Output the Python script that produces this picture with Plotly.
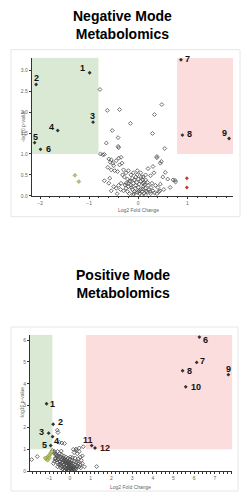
import plotly.graph_objects as go

W, H = 245, 500

# ---------------- Negative mode data ----------------
neg_lab_x = [-0.99, -2.08, -0.92, -1.64, -2.11, -1.99, 0.87, 0.90, 1.85]
neg_lab_y = [2.94, 2.66, 1.76, 1.56, 1.27, 1.11, 3.25, 1.45, 1.37]
neg_labels = ["1", "2", "3", "4", "5", "6", "7", "8", "9"]
neg_lab_dx = [-7, 0, -1, -6, 1, 8, 7, 7, -5]
neg_lab_dy = [5, 6, 6, 4, 6, 0, 1, 1, 5]

neg_other_x = [-0.78, -0.63, -0.38, 0.48, 0.33, -0.16, -0.53, 0.29, -0.65, -0.41, -0.40, 0.54,
               -0.77, -0.72, 0.38, 0.47, 0.71, 0.75,
               -0.41, -0.69, -0.6, -0.55, -0.57, -0.52, -0.5, -0.45, -0.4, -0.35, -0.33, -0.38,
               -0.55, -0.48, -0.42, -0.3, -0.25, -0.2, -0.15, -0.28, -0.22, -0.18, -0.12, -0.08,
               -0.05, 0.0, 0.05, 0.1, -0.1, -0.15, -0.2, -0.25, -0.3, -0.05, 0.0, 0.05, 0.1, 0.15,
               0.2, -0.12, -0.08, -0.02, 0.03, 0.08, 0.12, 0.18, -0.18, -0.22, 0.25, 0.22, 0.3,
               0.28, 0.35, 0.4, 0.45, 0.42, 0.38, -0.35, -0.4, -0.45, -0.5, -0.69, -0.6, -0.55,
               0.38, 0.45, 0.55, 0.76, 0.5, 0.32, 0.25, 0.15, 0.1, 0.05, -0.02, 0.2, 0.3, 0.15,
               0.12, -0.03, 0.02, 0.07, -0.1, 0.15, -0.25, -0.32, -0.1, 0.6, 0.65,
               -0.14, -0.06, 0.02, 0.09, 0.16, -0.2, -0.27, 0.24, 0.33, -0.36, -0.16, -0.02,
               0.06, 0.13, 0.19, -0.09, 0.0, 0.09, 0.26, -0.43, -0.58, -0.62, 0.44, 0.52]
neg_other_y = [2.54, 2.04, 2.06, 2.18, 1.94, 1.73, 1.56, 1.49, 1.26, 1.39, 1.15, 1.13,
               1.0, 0.98, 0.91, 0.82, 0.38, 0.37,
               1.18, 0.99, 0.88, 0.86, 0.8, 0.78, 0.72, 0.84, 0.9, 0.92, 0.78, 0.74,
               0.62, 0.6, 0.58, 0.62, 0.55, 0.6, 0.5, 0.45, 0.4, 0.35, 0.42, 0.38,
               0.45, 0.4, 0.35, 0.3, 0.3, 0.25, 0.22, 0.18, 0.12, 0.25, 0.2, 0.15, 0.22, 0.18,
               0.25, 0.15, 0.1, 0.08, 0.05, 0.1, 0.06, 0.1, 0.05, 0.1, 0.05, 0.15, 0.12,
               0.3, 0.25, 0.2, 0.28, 0.1, 0.05, 0.3, 0.25, 0.18, 0.22, 0.36, 0.3, 0.12,
               0.94, 0.78, 0.56, 0.33, 0.45, 0.55, 0.48, 0.5, 0.45, 0.55, 0.6, 0.65, 0.7, 0.38,
               0.32, 0.32, 0.28, 0.02, 0.02, 0.02, 0.3, 0.5, 0.55, 0.4, 0.2,
               0.2, 0.18, 0.12, 0.16, 0.12, 0.3, 0.26, 0.1, 0.07, 0.15, 0.35, 0.5,
               0.45, 0.26, 0.32, 0.05, 0.1, 0.38, 0.2, 0.05, 0.42, 0.68, 0.12, 0.15]
neg_yellow_x = [-1.29, -1.21]
neg_yellow_y = [0.49, 0.34]
neg_red_x = [0.99, 0.99]
neg_red_y = [0.42, 0.2]

# ---------------- Positive mode data ----------------
pos_lab_x = [-1.13, -0.81, -1.03, -0.84, -0.93, 6.25, 6.12, 5.44, 7.65, 5.59, 1.05, 1.21]
pos_lab_y = [3.09, 2.15, 1.74, 1.58, 1.17, 6.14, 4.98, 4.60, 4.42, 3.86, 1.17, 1.06]
pos_labels = ["1", "2", "3", "4", "5", "6", "7", "8", "9", "10", "11", "12"]
pos_lab_dx = [6, 7, -7, 4, -6, 6, 6, 7, 0, 10, -4, 10]
pos_lab_dy = [0, 2, 1, -4, 1, -3, 1, 0, 6, 0, 6, 0]

pos_other_x = [-0.61, -0.58, -0.52, -0.39, -0.26, 0.64, 0.45, 0.29, 0.16, 1.29, -1.85, -1.58,
               -0.85, -0.8, -0.75, -0.7, -0.65, -0.6, -0.55, -0.5, -0.45, -0.4, -0.35, -0.3,
               -0.25, -0.2, -0.15, -0.1, -0.05, 0.0, 0.05, 0.1, 0.15, 0.2, 0.25, 0.3, 0.35, 0.4,
               0.45, 0.5, 0.55, 0.6, 0.35, 0.2, -0.7, -0.65, -0.6, -0.55, -0.5, -0.45, -0.4,
               -0.35, -0.3, -0.25, -0.2, -0.15, -0.1, -0.05, 0.0, 0.05, 0.1, 0.15, 0.2, 0.25,
               0.3, -0.45, -0.35, -0.25, -0.15, -0.05, 0.05, -0.6, -0.75, -0.8, 0.4, 0.5, 0.25,
               -0.3, -0.1, 0.0, 0.1, -0.2, 0.3, 0.45, 0.6, 0.7,
               -0.62, -0.52, -0.42, -0.32, -0.22, -0.12, -0.02, 0.08, 0.18, -0.57, -0.47,
               -0.37, -0.27, -0.17, -0.07, 0.03, 0.13, -0.48, -0.38, -0.28, -0.18, -0.08,
               0.02, 0.12, 0.22, -0.33, -0.23, -0.13, -0.03, 0.07, -0.67, -0.72, 0.32,
               0.38, 0.52, -0.42, -0.12, 0.12, -0.28, 0.02]
pos_other_y = [1.88, 1.77, 1.32, 1.29, 1.27, 1.12, 1.06, 1.01, 1.0, 0.21, 0.53, 0.67,
               0.95, 0.85, 0.9, 0.8, 0.75, 0.9, 0.7, 0.8, 0.65, 0.75, 0.6, 0.7,
               0.55, 0.65, 0.5, 0.6, 0.45, 0.55, 0.4, 0.5, 0.35, 0.45, 0.3, 0.4, 0.25, 0.35,
               0.2, 0.3, 0.5, 0.7, 0.8, 0.85, 0.6, 0.5, 0.4, 0.3, 0.45, 0.35, 0.25,
               0.4, 0.3, 0.2, 0.35, 0.25, 0.15, 0.3, 0.2, 0.1, 0.25, 0.15, 0.08, 0.15,
               0.1, 0.15, 0.1, 0.05, 0.08, 0.05, 0.03, 0.2, 0.45, 0.35, 0.55, 0.65, 0.6,
               0.5, 0.4, 0.35, 0.05, 0.12, 0.95, 0.9, 0.35, 0.2,
               0.68, 0.62, 0.55, 0.48, 0.42, 0.36, 0.3, 0.2, 0.22, 0.52, 0.45,
               0.38, 0.32, 0.28, 0.22, 0.16, 0.1, 0.28, 0.2, 0.14, 0.1, 0.06,
               0.12, 0.02, 0.04, 0.58, 0.48, 0.42, 0.38, 0.32, 0.72, 0.55, 0.2,
               0.45, 0.15, 0.92, 0.02, 0.62, 0.02, 0.65]
pos_yellow_x = [-1.15, -1.1, -1.05, -1.0, -0.95, -0.92, -0.88, -1.08, -0.98, -1.2]
pos_yellow_y = [0.55, 0.62, 0.68, 0.72, 0.78, 0.85, 0.9, 0.5, 0.6, 0.6]

neg_xticks = [-2, -1, 0, 1]
neg_yticks = [0.0, 0.5, 1.0, 1.5, 2.0, 2.5, 3.0]
pos_xticks = [-2, -1, 0, 1, 2, 3, 4, 5, 6, 7]
pos_yticks = [0, 1, 2, 3, 4, 5, 6]

# ---------------- figure ----------------
fig = go.Figure()

def px_x(p):
    return p / W

def px_y(p):
    return 1 - p / H

gray_mk = dict(symbol="diamond-open", size=3, color="#4a4a4a", line=dict(width=0.8))

def add_panel(xa, ya, ox, oy, yx, yy, lx, ly):
    fig.add_trace(go.Scatter(x=ox, y=oy, mode="markers", marker=gray_mk,
                             xaxis=xa, yaxis=ya, showlegend=False, hoverinfo="skip"))
    fig.add_trace(go.Scatter(x=yx, y=yy, mode="markers",
                             marker=dict(symbol="diamond", size=3, color="#b7c96a",
                                         line=dict(width=0.5, color="#7a8a3a")),
                             xaxis=xa, yaxis=ya, showlegend=False, hoverinfo="skip"))
    fig.add_trace(go.Scatter(x=lx, y=ly, mode="markers",
                             marker=dict(symbol="diamond", size=3, color="#333333"),
                             xaxis=xa, yaxis=ya, showlegend=False, hoverinfo="skip"))

add_panel("x", "y", neg_other_x, neg_other_y, neg_yellow_x, neg_yellow_y, neg_lab_x, neg_lab_y)
fig.add_trace(go.Scatter(x=neg_red_x, y=neg_red_y, mode="markers",
                         marker=dict(symbol="diamond", size=3, color="#c0392b"),
                         xaxis="x", yaxis="y", showlegend=False, hoverinfo="skip"))
add_panel("x2", "y2", pos_other_x, pos_other_y, pos_yellow_x, pos_yellow_y, pos_lab_x, pos_lab_y)

# shaded regions
green = "rgba(205,225,198,0.75)"
pink = "rgba(250,210,210,0.75)"
fig.add_shape(type="rect", xref="x", yref="y", x0=-2.17, x1=-0.81, y0=1.0, y1=3.3,
              fillcolor=green, line=dict(width=0), layer="below")
fig.add_shape(type="rect", xref="x", yref="y", x0=0.79, x1=1.93, y0=1.0, y1=3.3,
              fillcolor=pink, line=dict(width=0), layer="below")
fig.add_shape(type="rect", xref="x2", yref="y2", x0=-1.93, x1=-0.85, y0=1.0, y1=6.25,
              fillcolor=green, line=dict(width=0), layer="below")
fig.add_shape(type="rect", xref="x2", yref="y2", x0=0.77, x1=7.84, y0=1.0, y1=6.25,
              fillcolor=pink, line=dict(width=0), layer="below")

# frames
for (x0, y0, x1, y1) in [(11, 50, 240, 218), (11, 329, 238, 494)]:
    fig.add_shape(type="rect", xref="paper", yref="paper",
                  x0=px_x(x0), x1=px_x(x1), y0=px_y(y1), y1=px_y(y0),
                  line=dict(color="#e6e6e6", width=1), fillcolor="rgba(0,0,0,0)", layer="below")

ann = []
lab_font = dict(family="Liberation Sans, Arial", size=9, color="#111111")
for x, y, t, dx, dy in zip(neg_lab_x, neg_lab_y, neg_labels, neg_lab_dx, neg_lab_dy):
    ann.append(dict(x=x, y=y, xref="x", yref="y", text="<b>%s</b>" % t, showarrow=False,
                    xshift=dx, yshift=dy, font=lab_font))
for i, (x, y, t, dx, dy) in enumerate(zip(pos_lab_x, pos_lab_y, pos_labels, pos_lab_dx, pos_lab_dy)):
    f = dict(lab_font)
    if t in ("11", "12"):
        f["color"] = "#3a1010"
    ann.append(dict(x=x, y=y, xref="x2", yref="y2", text="<b>%s</b>" % t, showarrow=False,
                    xshift=dx, yshift=dy, font=f))

title_font = dict(family="Liberation Sans, Arial", size=14, color="#000000")
ann.append(dict(x=0.5, y=px_y(25.5), xref="paper", yref="paper", showarrow=False, yanchor="middle",
                text="<b>Negative Mode<br>Metabolomics</b>", font=title_font, align="center"))
ann.append(dict(x=0.5, y=px_y(285.5), xref="paper", yref="paper", showarrow=False, yanchor="middle",
                text="<b>Positive Mode<br>Metabolomics</b>", font=title_font, align="center"))

small = dict(family="Liberation Sans, Arial", size=5, color="#666666")
ann.append(dict(x=px_x(138), y=px_y(211), xref="paper", yref="paper", showarrow=False,
                yanchor="middle", text="Log2 Fold Change", font=small))
ann.append(dict(x=px_x(18), y=px_y(127), xref="paper", yref="paper", showarrow=False,
                yanchor="middle", text="-log10 p-value", font=small, textangle=-90))
ann.append(dict(x=px_x(130), y=px_y(490), xref="paper", yref="paper", showarrow=False,
                yanchor="middle", text="Log2 Fold Change", font=small))
ann.append(dict(x=px_x(17), y=px_y(405), xref="paper", yref="paper", showarrow=False,
                yanchor="middle", text="-log10 p-value", font=small, textangle=-90))

axis_common = dict(showgrid=False, zeroline=False, showline=True, linecolor="#333333",
                   linewidth=1, ticks="outside", ticklen=2, tickcolor="#333333",
                   tickfont=small)

fig.update_layout(
    width=W, height=H, margin=dict(l=0, r=0, t=0, b=0),
    paper_bgcolor="white", plot_bgcolor="white",
    annotations=ann,
    xaxis=dict(axis_common, domain=[px_x(31.7), px_x(233)], range=[-2.17, 1.93],
               tickvals=neg_xticks, anchor="y",
               minor=dict(ticks="outside", ticklen=1.5, dtick=0.2, tickcolor="#333333")),
    yaxis=dict(axis_common, domain=[px_y(197), px_y(58)], range=[0, 3.3],
               tickvals=neg_yticks, tickformat=".1f", anchor="x"),
    xaxis2=dict(axis_common, domain=[px_x(30), px_x(232.3)], range=[-1.93, 7.84],
                tickvals=pos_xticks, anchor="y2",
                minor=dict(ticks="outside", ticklen=1.5, dtick=0.2, tickcolor="#333333")),
    yaxis2=dict(axis_common, domain=[px_y(474), px_y(336.7)], range=[0, 6.25],
                tickvals=pos_yticks, anchor="x2"),
)

fig.write_html("out.html")
